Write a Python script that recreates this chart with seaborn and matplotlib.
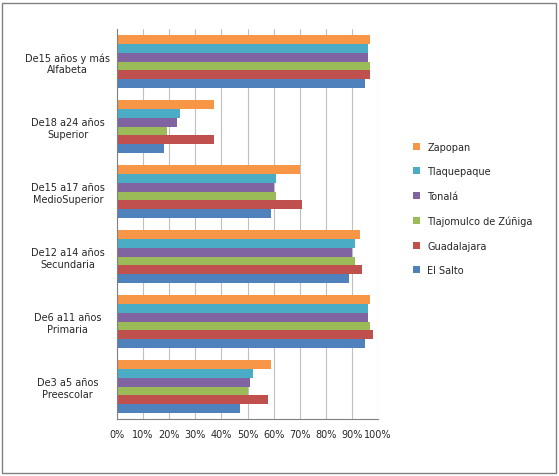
import pandas as pd
import matplotlib.pyplot as plt
import seaborn as sns
from matplotlib.patches import Rectangle

categories = ["De15 años y más\nAlfabeta", "De18 a24 años\nSuperior", "De15 a17 años\nMedioSuperior",
              "De12 a14 años\nSecundaria", "De6 a11 años\nPrimaria", "De3 a5 años\nPreescolar"]
series = ["Zapopan", "Tlaquepaque", "Tonalá", "Tlajomulco de Zúñiga", "Guadalajara", "El Salto"]
zapopan = [97, 37, 70, 93, 97, 59]
tlaquepaque = [96, 24, 61, 91, 96, 52]
tonala = [96, 23, 60, 90, 96, 51]
tlajomulco = [97, 19, 61, 91, 97, 50]
guadalajara = [97, 37, 71, 94, 98, 58]
el_salto = [95, 18, 59, 89, 95, 47]
colors = ["#F79646", "#4BACC6", "#8064A2", "#9BBB59", "#C0504D", "#4F81BD"]

values = [zapopan, tlaquepaque, tonala, tlajomulco, guadalajara, el_salto]
rows = []
for name, vals in zip(series, values):
    for cat, v in zip(categories, vals):
        rows.append({"cat": cat, "serie": name, "val": v})
df = pd.DataFrame(rows)

sns.set_style("white")
fig = plt.figure(figsize=(5.59, 4.77), dpi=100)
ax = fig.add_axes([117 / 559, 57 / 477, 261 / 559, 390 / 477])
sns.barplot(data=df, y="cat", x="val", hue="serie", hue_order=series, order=categories,
            palette=colors, ax=ax, width=0.82, edgecolor="none", saturation=1, legend=True)

ax.set_xlim(0, 100)
ax.set_xticks(range(0, 101, 10))
ax.set_xticklabels([f"{t}%" for t in range(0, 101, 10)], fontsize=7)
ax.tick_params(axis="y", labelsize=7, length=0)
ax.set_xlabel("")
ax.set_ylabel("")
ax.xaxis.grid(True, color="#BFBFBF", linewidth=0.8)
ax.set_axisbelow(True)
for lab in ax.get_yticklabels():
    lab.set_horizontalalignment("center")
    lab.set_x(-0.17)
for s in ["top", "right"]:
    ax.spines[s].set_visible(False)
for s in ["left", "bottom"]:
    ax.spines[s].set_color("#808080")

leg = ax.legend(loc="center left", bbox_to_anchor=(1.1, 0.54), frameon=False, fontsize=7,
                handlelength=0.7, handleheight=0.7, labelspacing=1.5)

fig.patches.append(Rectangle((0.004, 0.006), 0.99, 0.985, transform=fig.transFigure,
                             fill=False, edgecolor="#808080", linewidth=1))
fig.savefig("out.png", dpi=100)
